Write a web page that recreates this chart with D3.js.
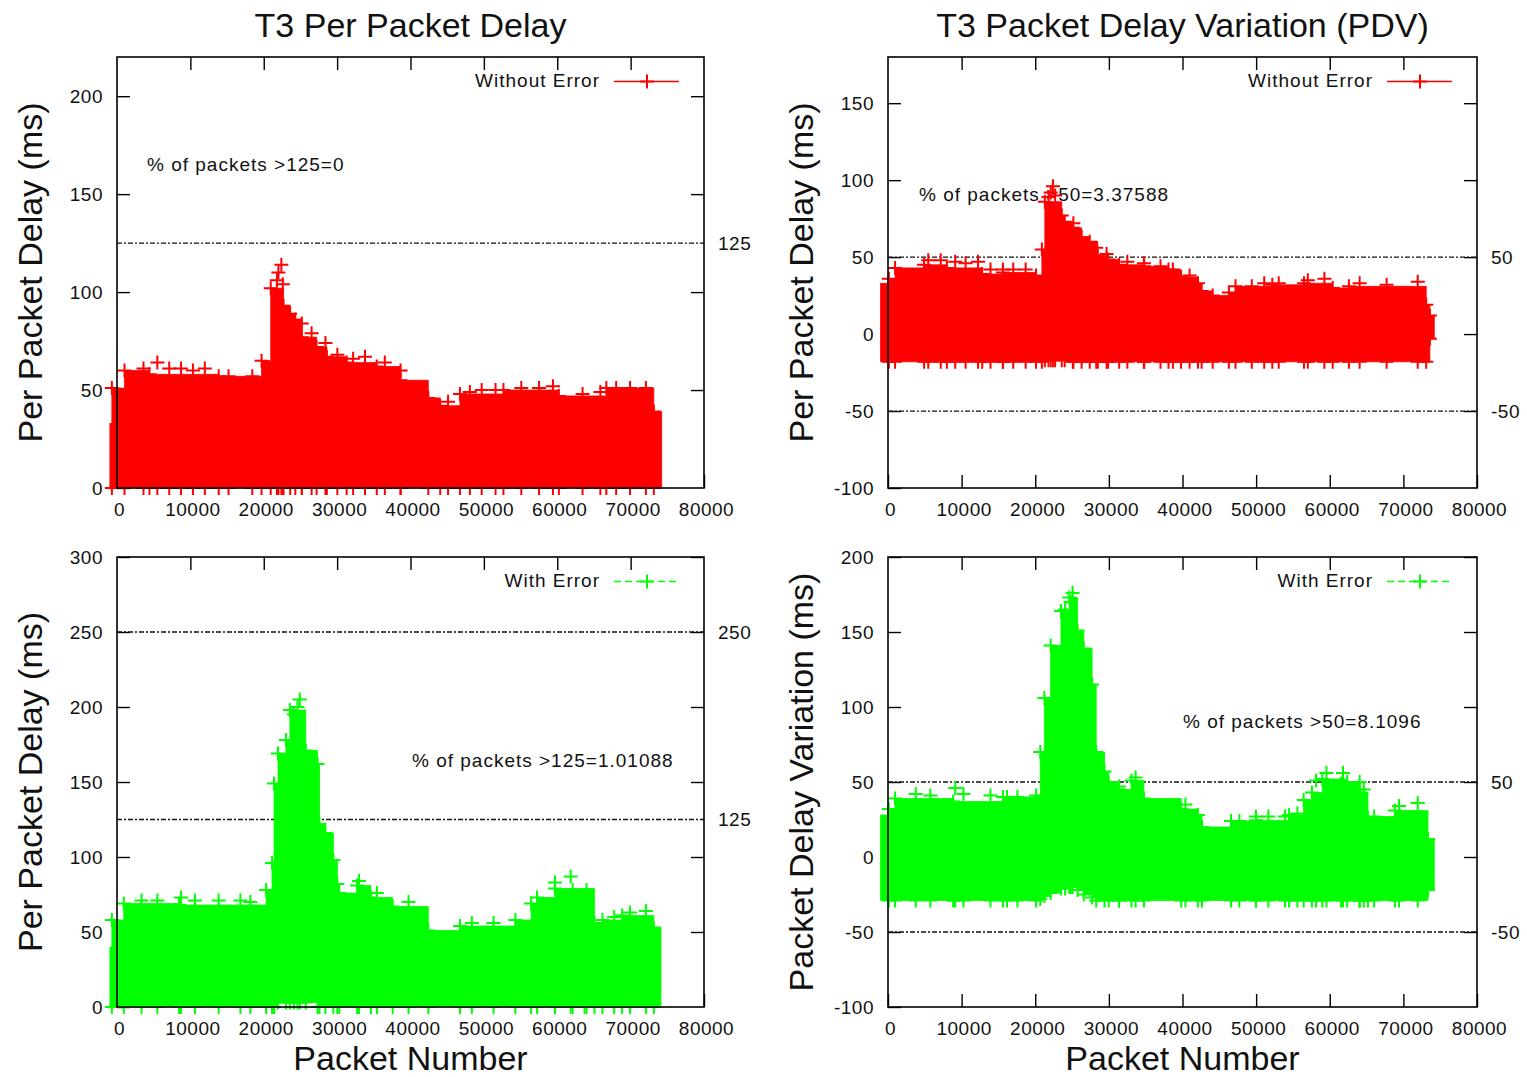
<!DOCTYPE html>
<html><head><meta charset="utf-8">
<script src="https://cdn.jsdelivr.net/npm/d3@7"></script>
<style>
body{margin:0;background:#fff;}
svg{display:block;}
</style>
</head><body>
<svg id="c" width="1527" height="1077"></svg>
<script>
// ---------------- data ----------------
const xTicks = [0, 10000, 20000, 30000, 40000, 50000, 60000, 70000, 80000];
const titles = ["T3 Per Packet Delay", "T3 Packet Delay Variation (PDV)"];
const yLabels = ["Per Packet Delay (ms)", "Per Packet Delay (ms)", "Per Packet Delay (ms)", "Packet Delay Variation (ms)"];
const xLabel = "Packet Number";
const seriesNames = ["Without Error", "With Error"];

// Panel 1: per packet delay, without error (envelope of the scatter)
const p1YTicks = [0, 50, 100, 150, 200];
const p1Thresholds = [125];
const p1Note = "% of packets >125=0";
const p1X = [-970, -700, 1020, 4420, 13860, 19700, 20950, 22700, 23600, 24300, 25200, 27200, 28600, 31300, 35400, 38650, 42430, 44050, 46740, 52670, 60220, 66690, 73160, 74230];
const p1Top = [33, 51, 60, 58, 57, 65, 102, 93, 89, 86, 77, 72, 67, 64, 62, 55, 46, 42, 48, 50, 47, 51, 39];
const p1Low = [0, 0, 0, 0, 0, 0, 0, 0, 0, 0, 0, 0, 0, 0, 0, 0, 0, 0, 0, 0, 0, 0, 0];
const p1Spikes = [[3610,61],[5500,64],[7120,61],[8730,61],[10350,60],[11970,61],[15200,57],[18440,57],[21800,106],[22000,110],[22400,114],[22600,104],[25180,84],[26520,79],[28410,74],[30030,68],[32180,66],[33800,67],[36500,64],[38650,60],[45120,44],[48090,49],[49700,50],[51590,50],[55100,51],[57520,51],[59410,52],[63450,48],[65880,49],[68030,51],[69920,51],[72080,51]];

// Panel 2: PDV, without error
const p2YTicks = [-100, -50, 0, 50, 100, 150];
const p2Thresholds = [50, -50];
const p2Note = "% of packets >50=3.37588";
const p2X = [-1010, 110, 960, 4900, 8000, 12800, 15600, 20100, 20900, 21300, 23600, 24000, 25100, 26300, 27400, 28500, 29900, 31400, 34800, 38100, 39800, 42100, 42600, 44100, 46300, 47200, 52200, 56500, 60400, 62600, 73100, 73600, 74200];
const p2Top = [33, 36, 43, 45, 43, 39, 40, 38, 55, 86, 77, 73, 69, 63, 60, 51, 48.5, 45, 44, 42, 37, 33, 28, 25, 27, 31, 32, 33, 30, 31, 19, 12];
const p2Low = [-18, -18, -18, -18, -18, -18, -18, -18, -18, -17, -17, -17, -18, -18, -18, -18, -18, -18, -18, -18, -18, -18, -18, -18, -18, -18, -18, -18, -18, -18, -18, -3];
const p2Spikes = [[5470,48],[7160,48],[9130,47],[10540,46],[12230,47],[13920,42],[15610,42],[17010,42],[18700,42],[21800,89],[22100,92],[22400,96],[22700,90],[25180,72],[28280,56],[29690,52],[32510,47],[34760,46],[37010,44],[38700,42],[40960,38],[49410,31],[51100,33],[53070,33],[57020,35],[59270,36],[64060,33],[67720,32],[71950,34]];

// Panel 3: per packet delay, with error
const p3YTicks = [0, 50, 100, 150, 200, 250, 300];
const p3Thresholds = [250, 125];
const p3Note = "% of packets >125=1.01088";
const p3X = [-970, -700, 920, 8460, 20320, 21130, 21400, 21940, 23020, 23560, 25720, 27330, 27600, 28410, 29490, 30030, 30300, 32720, 34610, 37570, 42430, 46740, 54290, 56440, 57250, 59680, 65070, 66150, 68840, 73160, 74130];
const p3Top = [40, 58, 69, 68, 78, 96, 149, 169, 178, 198, 171, 162, 122, 116, 98, 82, 76, 81, 73, 67, 51, 54, 58, 69, 73, 79, 56, 58, 61, 53];
const p3Low = [0, 0, 0, 0, 0, 0, 0, 3, 3, 3, 3, 0, 0, 0, 0, 0, 0, 0, 0, 0, 0, 0, 0, 0, 0, 0, 0, 0, 0, 0];
const p3Spikes = [[3340,71],[5500,71],[8730,73],[10620,71],[13850,71],[16820,71],[18170,70],[24100,195],[24600,200],[24910,205],[32990,84],[35420,76],[39730,70],[48360,56],[51320,56],[59680,83],[61830,87],[62100,78],[63720,70],[63990,78],[67760,60],[69920,63],[72080,64]];

// Panel 4: PDV, with error
const p4YTicks = [-100, -50, 0, 50, 100, 150, 200];
const p4Thresholds = [50, -50];
const p4Note = "% of packets >50=8.1096";
const p4X = [-1010, 110, 960, 8850, 15610, 20110, 20680, 21240, 22090, 23490, 24620, 25750, 26590, 27720, 28280, 29410, 29970, 31380, 33070, 34760, 39830, 42090, 42650, 46590, 49970, 54480, 56450, 57580, 58990, 62370, 64060, 65190, 66030, 68850, 73350, 74200];
const p4Top = [28, 32, 39, 37, 40, 41, 70, 106, 141, 164, 173, 151, 139, 115, 70, 57, 50, 45, 51, 39, 32, 28, 20, 24, 24.5, 28, 38, 43, 52, 50, 43, 26, 27, 31, 12];
const p4Low = [-29, -29, -29, -29, -29, -29, -28, -26, -24, -21, -20, -22, -25, -27, -29, -29, -29, -29, -29, -29, -29, -29, -29, -29, -29, -29, -29, -29, -29, -29, -29, -29, -29, -29, -22];
const p4Spikes = [[3770,42],[5750,41],[9130,46],[10250,42],[13920,41],[16170,40],[17580,40],[24060,165],[24800,170],[25070,176],[31380,47],[33630,53],[40400,35],[47720,24],[49970,27],[51660,27],[53920,27],[55610,29],[58140,51],[59550,56],[61520,49],[61800,56],[64060,50],[64060,45],[64620,45],[69410,34],[71950,36]];

// ---------------- drawing ----------------
const FONT = '"Liberation Sans", Arial, Helvetica, sans-serif';
const RED = "#ff0000", GREEN = "#00ff00";
const svg = d3.select("#c");

const panels = [
  {left:117, right:704, top:57, bottom:488, yDomain:[0,220], yTicks:p1YTicks, thr:p1Thresholds,
   xs:p1X, tops:p1Top, lows:p1Low, spikes:p1Spikes, color:RED, dashed:false, name:seriesNames[0],
   note:p1Note, noteAt:[4090,162], ylabel:yLabels[0], title:titles[0]},
  {left:888, right:1477, top:57, bottom:488, yDomain:[-100,180], yTicks:p2YTicks, thr:p2Thresholds,
   xs:p2X, tops:p2Top, lows:p2Low, spikes:p2Spikes, color:RED, dashed:false, name:seriesNames[0],
   note:p2Note, noteAt:[4210,86.4], ylabel:yLabels[1], title:titles[1]},
  {left:117, right:704, top:557, bottom:1007, yDomain:[0,300], yTicks:p3YTicks, thr:p3Thresholds,
   xs:p3X, tops:p3Top, lows:p3Low, spikes:p3Spikes, color:GREEN, dashed:true, name:seriesNames[1],
   note:p3Note, noteAt:[40200,160], ylabel:yLabels[2], xlabel:xLabel},
  {left:888, right:1477, top:557, bottom:1007, yDomain:[-100,200], yTicks:p4YTicks, thr:p4Thresholds,
   xs:p4X, tops:p4Top, lows:p4Low, spikes:p4Spikes, color:GREEN, dashed:true, name:seriesNames[1],
   note:p4Note, noteAt:[40070,86], ylabel:yLabels[3], xlabel:xLabel}
];

const H = 7; // half size of "+" point marker
const cross = h => `M${-h},0H${h}M0,${-h}V${h}`;
const fmt = d => String(d); // plain hyphen-minus like the original

function styleAxis(sel){
  sel.attr("font-family", FONT).attr("font-size", 19);
  sel.selectAll(".domain").remove();
  sel.selectAll("line").attr("stroke", "#000").attr("stroke-width", 1.4);
  sel.selectAll("text").attr("fill", "#111").style("letter-spacing", "0.5px");
}

panels.forEach(p => {
  const x = d3.scaleLinear().domain([0, 80000]).range([p.left, p.right]);
  const y = d3.scaleLinear().domain(p.yDomain).range([p.bottom, p.top]);
  const g = svg.append("g");

  // ticks, all pointing inward
  g.append("g").attr("transform", `translate(0,${p.bottom})`)
    .call(d3.axisBottom(x).tickValues(xTicks).tickSize(-13).tickPadding(14.5).tickFormat(fmt))
    .call(styleAxis).selectAll("text").attr("x", 2);
  g.append("g").attr("transform", `translate(0,${p.top})`)
    .call(d3.axisTop(x).tickValues(xTicks.slice(1, -1)).tickSize(-13).tickFormat(""))
    .call(styleAxis);
  g.append("g").attr("transform", `translate(${p.left},0)`)
    .call(d3.axisLeft(y).tickValues(p.yTicks).tickSize(-13).tickPadding(14).tickFormat(fmt))
    .call(styleAxis);
  g.append("g").attr("transform", `translate(${p.right},0)`)
    .call(d3.axisRight(y).tickValues(p.yTicks.filter(v => v > p.yDomain[0])).tickSize(-13).tickFormat(""))
    .call(styleAxis);
  // second y axis labels for thresholds
  g.append("g").attr("transform", `translate(${p.right},0)`)
    .call(d3.axisRight(y).tickValues(p.thr).tickSize(0).tickPadding(14).tickFormat(fmt))
    .call(styleAxis);

  // threshold dashed lines
  g.selectAll("line.thr").data(p.thr).join("line").attr("class", "thr")
    .attr("x1", p.left).attr("x2", p.right)
    .attr("y1", d => y(d)).attr("y2", d => y(d))
    .attr("stroke", "#111").attr("stroke-width", 1.3).attr("stroke-dasharray", "5,2,2,2");

  // annotation
  g.append("text").attr("x", x(p.noteAt[0])).attr("y", y(p.noteAt[1]))
    .attr("font-family", FONT).attr("font-size", 19).attr("fill", "#111")
    .style("letter-spacing", "1px").text(p.note);

  // legend
  const ly = p.top + 24.5;
  g.append("text").attr("x", p.right - 104).attr("y", p.top + 30).attr("text-anchor", "end")
    .attr("font-family", FONT).attr("font-size", 19).attr("fill", "#111")
    .style("letter-spacing", "1px").text(p.name);
  g.append("line").attr("x1", p.right - 90).attr("x2", p.right - 25).attr("y1", ly).attr("y2", ly)
    .attr("stroke", p.color).attr("stroke-width", 1.5)
    .attr("stroke-dasharray", p.dashed ? "7,4" : null);
  g.append("path").attr("d", cross(H)).attr("transform", `translate(${p.right - 57},${ly})`)
    .attr("stroke", p.color).attr("stroke-width", 2).attr("fill", "none");

  // data: dense scatter envelope drawn as one stepped band (no seams)
  const pts = p.tops.map((t, i) => ({x: p.xs[i], hi: t, lo: p.lows[i]}));
  pts.push({x: p.xs[p.xs.length - 1], hi: p.tops[p.tops.length - 1], lo: p.lows[p.lows.length - 1]});
  const area = d3.area().curve(d3.curveStepAfter)
    .x(d => x(d.x)).y0(d => y(d.lo)).y1(d => y(d.hi));
  g.append("path").datum(pts).attr("d", area).attr("fill", p.color)
    .attr("stroke", p.color).attr("stroke-width", 0.8);

  // "+" point markers along the top of the cloud, spikes and bottom fringe
  const topPts = p.xs.slice(1, -1).map((v, i) => [v, p.tops[i + 1]]).concat(p.spikes);
  const segOf = v => Math.max(0, Math.min(p.tops.length - 1, d3.bisectRight(p.xs, v) - 1));
  const lowPts = p.xs.slice(1, -1).concat(p.spikes.map(s => s[0])).map(v => [v, p.lows[segOf(v)]]);
  g.append("g").selectAll("path").data(topPts.concat(lowPts)).join("path")
    .attr("d", cross(H))
    .attr("transform", d => `translate(${x(d[0])},${y(d[1])})`)
    .attr("stroke", p.color).attr("stroke-width", 2).attr("fill", "none");

  // border
  g.append("rect").attr("x", p.left).attr("y", p.top)
    .attr("width", p.right - p.left).attr("height", p.bottom - p.top)
    .attr("fill", "none").attr("stroke", "#000").attr("stroke-width", 1.6);

  // axis titles
  g.append("text").attr("transform", `translate(${p.left - 75},${(p.top + p.bottom) / 2}) rotate(-90)`)
    .attr("text-anchor", "middle").attr("font-family", FONT).attr("font-size", 34).attr("fill", "#111")
    .text(p.ylabel);
  if (p.title) {
    g.append("text").attr("x", (p.left + p.right) / 2).attr("y", 37).attr("text-anchor", "middle")
      .attr("font-family", FONT).attr("font-size", 34).attr("fill", "#111").text(p.title);
  }
  if (p.xlabel) {
    g.append("text").attr("x", (p.left + p.right) / 2).attr("y", 1070).attr("text-anchor", "middle")
      .attr("font-family", FONT).attr("font-size", 34).attr("fill", "#111").text(p.xlabel);
  }
});
</script>
</body></html>
